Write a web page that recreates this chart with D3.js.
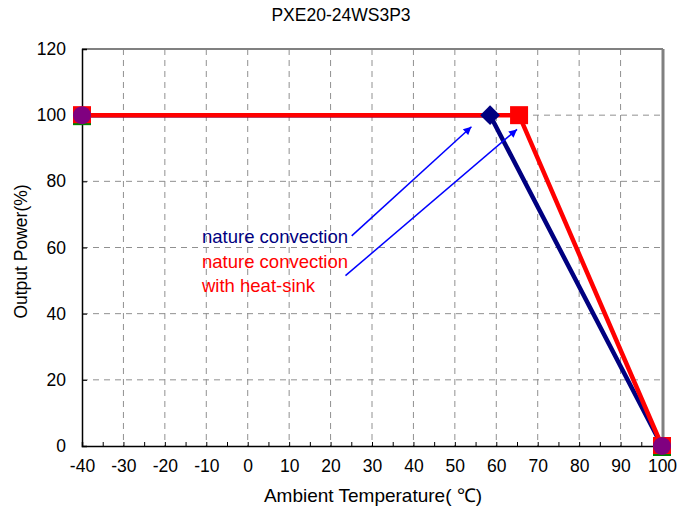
<!DOCTYPE html>
<html><head><meta charset="utf-8">
<script src="https://cdn.jsdelivr.net/npm/d3@7"></script>
<style>body{margin:0;background:#fff}svg{display:block}text{font-family:"Liberation Sans",Arial,sans-serif}</style>
</head><body>
<svg id="c" width="683" height="515"></svg>
<script>
const title = "PXE20-24WS3P3";
const xLabel = "Ambient Temperature( ℃)";
const yLabel = "Output Power(%)";
const xTicks = [-40,-30,-20,-10,0,10,20,30,40,50,60,70,80,90,100];
const yTicks = [0,20,40,60,80,100,120];
const blueTemp = [-40, 58.5, 100];
const bluePower = [100, 100, 0];
const redTemp = [-40, 65.5, 100];
const redPower = [100, 100, 0];
const endTemp = [-40, 100];
const endPower = [100, 0];
const labelBlue = ["nature convection"];
const labelRed = ["nature convection", "with heat-sink"];
const arrowFrom = [[25.1, 63.5], [23.6, 51.5]];
const arrowTo = [[54.0, 96.5], [65.0, 95.7]];

const svg = d3.select("#c");
const L = 82, R = 662, T = 49, B = 446;
const x = d3.scaleLinear().domain([-40,100]).range([L,R]);
const y = d3.scaleLinear().domain([0,120]).range([B,T]);
const FF = "Liberation Sans, Arial, sans-serif";

// grid
svg.append("g").selectAll("line").data(xTicks.filter(d=>d>-40&&d<100)).join("line")
  .attr("x1",d=>x(d)).attr("x2",d=>x(d)).attr("y1",T).attr("y2",B)
  .attr("stroke","#909090").attr("stroke-width",1).attr("stroke-dasharray","6,5");
svg.append("g").selectAll("line").data(yTicks.filter(d=>d>0&&d<120)).join("line")
  .attr("x1",L).attr("x2",R).attr("y1",d=>y(d)).attr("y2",d=>y(d))
  .attr("stroke","#909090").attr("stroke-width",1).attr("stroke-dasharray","6,5");
// top/right border
svg.append("line").attr("x1",L).attr("x2",R+1).attr("y1",T).attr("y2",T).attr("stroke","#808080").attr("stroke-width",2);
svg.append("line").attr("x1",R+1).attr("x2",R+1).attr("y1",T).attr("y2",B).attr("stroke","#808080").attr("stroke-width",3);

// axes
const xAxis = d3.axisBottom(x).tickValues(d3.range(-40,101,5)).tickSize(-4).tickFormat(()=>"");
const gx = svg.append("g").attr("transform",`translate(0,${B})`).call(xAxis);
gx.select(".domain").attr("stroke","#000").attr("stroke-width",1.5);
gx.selectAll(".tick line").attr("stroke","#000");
const gxl = svg.append("g").attr("transform",`translate(0,${B})`)
  .call(d3.axisBottom(x).tickValues(xTicks).tickSize(0).tickPadding(14).tickFormat(d=>d));
gxl.select(".domain").remove();
gxl.selectAll("text").attr("font-size",17.5).attr("fill","#000").attr("font-family",FF);

const gy = svg.append("g").attr("transform",`translate(${L},0)`)
  .call(d3.axisLeft(y).tickValues(yTicks).tickSize(-5).tickPadding(16).tickFormat(d=>d));
gy.select(".domain").attr("stroke","#000").attr("stroke-width",1.5);
gy.selectAll(".tick line").attr("stroke","#000");
gy.selectAll("text").attr("font-size",17.5).attr("fill","#000").attr("font-family",FF);

// lines
const line = d3.line().x(d=>x(d[0])).y(d=>y(d[1]));
const blue = blueTemp.map((t,i)=>[t,bluePower[i]]);
const red = redTemp.map((t,i)=>[t,redPower[i]]);
svg.append("path").datum(blue).attr("d",line).attr("fill","none").attr("stroke","#000080").attr("stroke-width",4.5);
svg.append("path").datum(red).attr("d",line).attr("fill","none").attr("stroke","#ff0000").attr("stroke-width",4.5);

// markers
const ends = endTemp.map((t,i)=>[t,endPower[i]]);
svg.append("g").selectAll("rect").data(ends).join("rect")
  .attr("x",d=>x(d[0])-9).attr("y",d=>y(d[1])-8).attr("width",18).attr("height",18).attr("fill","#008000");
svg.append("g").selectAll("rect").data(ends).join("rect")
  .attr("x",d=>x(d[0])-9).attr("y",d=>y(d[1])-9).attr("width",18).attr("height",17).attr("fill","#ff0000");
svg.append("g").selectAll("circle").data(ends).join("circle")
  .attr("cx",d=>x(d[0])).attr("cy",d=>y(d[1])).attr("r",9).attr("fill","#800080");
svg.append("path").attr("transform",`translate(${x(blue[1][0])},${y(blue[1][1])}) rotate(45)`)
  .attr("d","M-7,-7H7V7H-7Z").attr("fill","#000080");
svg.append("rect").attr("x",x(red[1][0])-9).attr("y",y(red[1][1])-9).attr("width",18).attr("height",18).attr("fill","#ff0000");

// arrows
const defs = svg.append("defs");
defs.append("marker").attr("id","ah").attr("viewBox","0 0 10 10").attr("refX",10).attr("refY",5)
  .attr("markerWidth",9).attr("markerHeight",8).attr("markerUnits","userSpaceOnUse").attr("orient","auto")
  .append("path").attr("d","M0,0L10,5L0,10Z").attr("fill","#0000ff");
svg.append("g").selectAll("line").data(arrowFrom).join("line")
  .attr("x1",d=>x(d[0])).attr("y1",d=>y(d[1]))
  .attr("x2",(d,i)=>x(arrowTo[i][0])).attr("y2",(d,i)=>y(arrowTo[i][1]))
  .attr("stroke","#0000ff").attr("stroke-width",1.5).attr("marker-end","url(#ah)");

// annotation text
svg.append("text").attr("x",202).attr("y",243).attr("font-size",18.5).attr("fill","#000080").text(labelBlue[0]);
svg.append("g").selectAll("text").data(labelRed).join("text")
  .attr("x",202).attr("y",(d,i)=>268+i*24).attr("font-size",18.5).attr("fill","#ff0000").text(d=>d);

// titles
svg.append("text").attr("x",341).attr("y",21).attr("text-anchor","middle").attr("font-size",17.5).attr("fill","#000").text(title);
svg.append("text").attr("x",373).attr("y",502).attr("text-anchor","middle").attr("font-size",19).attr("fill","#000").text(xLabel);
svg.append("text").attr("transform",`translate(27,${(T+B)/2+4}) rotate(-90)`).attr("text-anchor","middle").attr("font-size",17.5).attr("fill","#000").text(yLabel);
</script>
</body></html>
